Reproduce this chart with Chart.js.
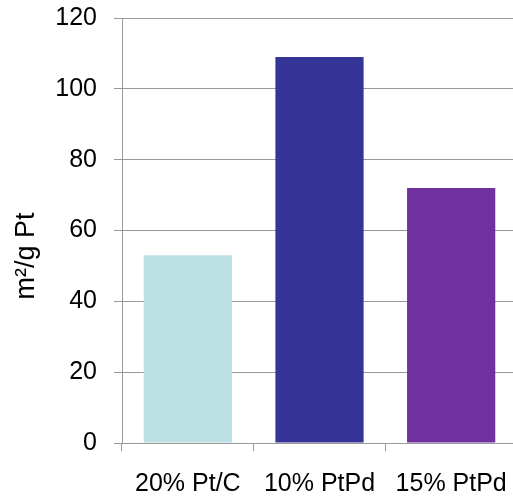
<!DOCTYPE html>
<html>
<head>
<meta charset="utf-8">
<script src="https://cdn.jsdelivr.net/npm/chart.js@4/dist/chart.umd.min.js"></script>
<style>
html,body{margin:0;padding:0;background:#fff;overflow:hidden;}
#wrap{width:517px;height:498px;position:relative;}
</style>
</head>
<body>
<div id="wrap"><canvas id="c" width="517" height="498"></canvas></div>
<script>
const categories = ["20% Pt/C", "10% PtPd", "15% PtPd"];
const values = [53, 109, 72];
const barColors = ["#bbe0e3", "#353598", "#7030a0"];
const yTitle = "m\u00b2/g Pt";
const yMin = 0, yMax = 120, yStep = 20;

const FONT = "'Liberation Sans', Arial, sans-serif";
const gridColor = "#999999";

const titlePlugin = {
  id: 'yTitle',
  afterDraw(chart) {
    const ctx = chart.ctx;
    ctx.save();
    ctx.translate(34, 256);
    ctx.rotate(-Math.PI / 2);
    ctx.font = "27px " + FONT;
    ctx.fillStyle = "#000";
    ctx.textAlign = "center";
    ctx.textBaseline = "alphabetic";
    ctx.fillText(yTitle, 0, 0);
    ctx.restore();
  }
};

new Chart(document.getElementById('c'), {
  type: 'bar',
  data: {
    labels: categories,
    datasets: [{
      data: values,
      backgroundColor: barColors,
      borderWidth: 0,
      barPercentage: 0.67,
      categoryPercentage: 1.0
    }]
  },
  options: {
    responsive: false,
    maintainAspectRatio: false,
    animation: false,
    events: [],
    layout: { padding: { top: 18, right: 0, left: 0, bottom: 0 } },
    plugins: { legend: { display: false }, tooltip: { enabled: false } },
    scales: {
      x: {
        offset: true,
        grid: { display: true, drawOnChartArea: false, color: gridColor, tickLength: 8, offset: true },
        border: { display: true, color: gridColor, width: 1 },
        ticks: { color: "#000", font: { family: FONT, size: 25 }, padding: 18, maxRotation: 0, autoSkip: false },
        afterFit(s) { s.height = 55; s.paddingLeft = 0; s.paddingRight = 0; }
      },
      y: {
        min: yMin, max: yMax,
        grid: { color: gridColor, tickLength: 8, lineWidth: 1 },
        border: { display: true, color: gridColor, width: 1 },
        ticks: { stepSize: yStep, color: "#000", font: { family: FONT, size: 25 }, padding: 17 },
        afterFit(s) { s.width = 122; s.paddingTop = 0; s.paddingBottom = 0; }
      }
    }
  },
  plugins: [titlePlugin]
});
</script>
</body>
</html>
